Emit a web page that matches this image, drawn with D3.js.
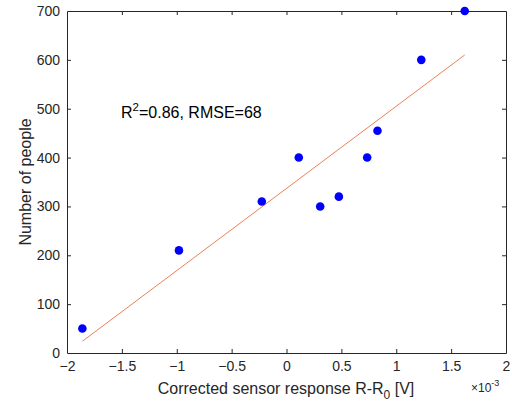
<!DOCTYPE html>
<html><head><meta charset="utf-8">
<script src="https://cdn.jsdelivr.net/npm/d3@7"></script>
<style>body{margin:0;background:#fff}svg{display:block;font-family:"Liberation Sans",Arial,sans-serif}</style>
</head><body><svg id="c" width="512" height="405"></svg>
<script>
const xVals = [-1.86, -0.98, -0.225, 0.112, 0.307, 0.477, 0.735, 0.829, 1.228, 1.624]; // x10^-3 V
const yVals = [50, 210, 310, 400, 300, 320, 400, 455, 600, 700];
const fitX = [-1.86, 1.624];
const fitY = [24, 610];
const xTicks = [-2, -1.5, -1, -0.5, 0, 0.5, 1, 1.5, 2];
const yTicks = [0, 100, 200, 300, 400, 500, 600, 700];

const svg = d3.select("#c");
const L = 67, R = 506, T = 11, B = 353;
const x = d3.scaleLinear().domain([-2, 2]).range([L, R]);
const y = d3.scaleLinear().domain([0, 700]).range([B, T]);
const axCol = "#262626";
const ff = '"Liberation Sans",Arial,sans-serif';

const xb = svg.append("g").attr("transform", `translate(0,${B})`)
  .call(d3.axisBottom(x).tickValues(xTicks).tickSizeInner(-4).tickSizeOuter(0).tickPadding(8).tickFormat(d3.format("")));
const xt = svg.append("g").attr("transform", `translate(0,${T})`)
  .call(d3.axisTop(x).tickValues(xTicks).tickSizeInner(-4).tickSizeOuter(0).tickFormat(""));
const yl = svg.append("g").attr("transform", `translate(${L},0)`)
  .call(d3.axisLeft(y).tickValues(yTicks).tickSizeInner(-4).tickSizeOuter(0).tickPadding(7));
const yr = svg.append("g").attr("transform", `translate(${R},0)`)
  .call(d3.axisRight(y).tickValues(yTicks).tickSizeInner(-4).tickSizeOuter(0).tickFormat(""));
[xb, xt, yl, yr].forEach(g => {
  g.select(".domain").attr("stroke", axCol).attr("stroke-width", 1);
  g.selectAll(".tick line").attr("stroke", axCol);
  g.selectAll("text").attr("fill", axCol).attr("font-size", 14).attr("font-family", ff);
});
[xb, xt].forEach(g => g.selectAll(".tick").filter(d => d === -2 || d === 2).select("line").remove());
[yl, yr].forEach(g => g.selectAll(".tick").filter(d => d === 0 || d === 700).select("line").remove());

// fit line
svg.append("line")
  .attr("x1", x(fitX[0])).attr("y1", y(fitY[0]))
  .attr("x2", x(fitX[1])).attr("y2", y(fitY[1]))
  .attr("stroke", "#e8825a").attr("stroke-width", 1);

// points
svg.append("g").selectAll("circle").data(xVals).join("circle")
  .attr("cx", d => x(d)).attr("cy", (d, i) => y(yVals[i]))
  .attr("r", 4.3).attr("fill", "#0000ff");

// annotation
const ann = svg.append("text").attr("x", 121).attr("y", 118).attr("font-size", 16).attr("fill", "#000");
ann.append("tspan").text("R");
ann.append("tspan").attr("dy", -7).attr("font-size", 11.5).text("2");
ann.append("tspan").attr("dy", 7).text("=0.86, RMSE=68");

// axis labels
const xl = svg.append("text").attr("x", 286).attr("y", 394).attr("text-anchor", "middle").attr("font-size", 16).attr("fill", axCol);
xl.append("tspan").text("Corrected sensor response R-R");
xl.append("tspan").attr("dy", 5).attr("font-size", 12).text("0");
xl.append("tspan").attr("dy", -5).text(" [V]");

svg.append("text").attr("transform", "translate(31,182) rotate(-90)")
  .attr("text-anchor", "middle").attr("font-size", 16).attr("fill", axCol).text("Number of people");

const ex = svg.append("text").attr("x", 471).attr("y", 392).attr("font-size", 12).attr("fill", axCol);
ex.append("tspan").text("\u00d710");
ex.append("tspan").attr("dy", -6).attr("font-size", 9).text("-3");
</script></body></html>
